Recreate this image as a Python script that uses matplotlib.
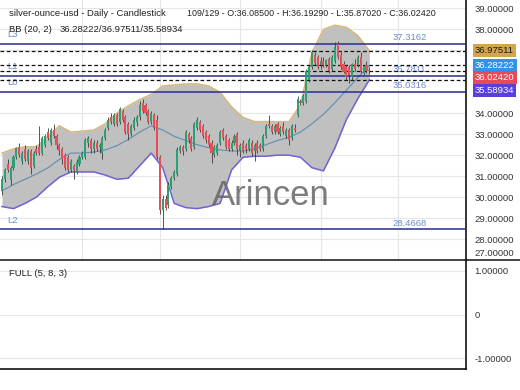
import numpy as np
import matplotlib
matplotlib.use("Agg")
import matplotlib.pyplot as plt
from matplotlib.lines import Line2D

plt.rcParams['font.family'] = ['Liberation Sans', 'DejaVu Sans']

#-------------------candles-------------------------------------------#
opens = [30.30, 30.85, 31.60, 30.80, 31.40, 31.90, 32.40, 31.70, 32.30, 31.70,
         32.20, 31.50, 32.30, 32.40, 32.10, 32.50, 33.10, 32.60, 33.20, 32.90,
         32.50, 32.30, 32.00, 31.90, 31.30, 31.50, 31.20, 31.60, 31.90, 31.90,
         32.60, 32.70, 32.30, 32.60, 32.40, 32.10, 32.80, 33.30, 33.80, 33.50,
         33.90, 33.60, 34.10, 33.80, 33.50, 33.00, 33.30, 33.60, 33.80, 34.50,
         34.40, 34.10, 33.60, 33.90, 33.70, 31.90, 29.40, 29.90, 29.60, 30.50,
         30.90, 31.10, 32.20, 32.40, 32.30, 33.00, 32.80, 32.40, 33.30, 33.60,
         33.40, 33.10, 32.90, 32.60, 32.00, 32.10, 32.60, 33.20, 32.90, 32.70,
         32.30, 32.60, 33.00, 32.20, 32.60, 32.50, 32.30, 32.60, 32.20, 32.60,
         32.50, 32.30, 32.90, 33.50, 33.40, 33.10, 33.50, 33.00, 33.40, 32.90,
         33.20, 32.80, 33.30, 33.90, 34.60, 34.50, 34.60, 35.60, 36.20, 36.80,
         36.70, 36.30, 36.50, 36.30, 36.60, 36.10, 36.50, 37.30, 36.80, 36.35,
         36.20, 36.20, 35.75, 36.35, 36.30, 36.70, 35.90, 36.30, 36.085]
highs = [31.00, 31.40, 31.80, 31.50, 32.00, 32.40, 32.60, 32.20, 32.50, 32.30,
         32.30, 32.20, 32.50, 33.40, 32.90, 33.00, 33.30, 33.30, 33.50, 33.00,
         32.60, 32.40, 32.10, 32.00, 31.80, 31.60, 31.80, 32.00, 32.20, 32.80,
         32.90, 32.80, 32.70, 32.70, 32.60, 32.90, 33.30, 33.80, 34.00, 34.00,
         34.00, 34.30, 34.20, 33.90, 33.60, 33.50, 33.80, 33.90, 34.60, 34.70,
         34.50, 34.20, 34.10, 34.00, 33.90, 32.00, 30.10, 30.10, 30.70, 31.00,
         31.30, 32.40, 32.50, 32.50, 33.20, 33.10, 32.90, 33.60, 33.80, 33.70,
         33.50, 33.20, 33.00, 32.70, 32.50, 32.60, 33.20, 33.30, 33.00, 32.80,
         32.70, 33.00, 33.10, 32.60, 32.70, 32.60, 32.80, 32.70, 32.60, 32.70,
         32.60, 33.00, 33.50, 33.90, 33.50, 33.50, 33.60, 33.40, 33.60, 33.30,
         33.30, 33.50, 33.50, 34.80, 34.70, 34.90, 36.10, 36.30, 37.00, 36.90,
         36.80, 36.70, 36.70, 36.60, 36.70, 36.80, 37.40, 37.45, 36.90, 36.50,
         36.30, 36.30, 36.40, 36.60, 36.80, 36.90, 36.30, 36.50, 36.1929]
lows = [30.10, 30.70, 31.20, 30.60, 31.30, 31.80, 31.90, 31.60, 31.70, 31.60,
        31.10, 31.40, 32.00, 32.00, 32.00, 32.40, 32.70, 32.50, 32.80, 32.30,
        32.00, 31.60, 31.30, 31.20, 31.20, 30.85, 31.10, 31.50, 31.80, 31.80,
        32.40, 32.10, 32.10, 32.20, 32.10, 31.80, 32.70, 33.20, 33.50, 33.40,
        33.40, 33.50, 33.60, 33.00, 32.70, 32.90, 33.20, 33.40, 33.70, 34.00,
        33.90, 33.50, 33.50, 33.20, 31.80, 29.20, 28.47, 29.40, 29.50, 30.40,
        30.80, 31.00, 32.10, 32.00, 32.20, 32.60, 32.20, 32.30, 33.20, 33.10,
        32.80, 32.60, 32.40, 31.65, 31.90, 32.00, 32.50, 32.70, 32.30, 32.20,
        32.20, 32.50, 32.00, 31.90, 32.10, 32.10, 32.20, 31.95, 31.70, 32.10,
        32.20, 32.20, 32.80, 33.30, 33.00, 33.00, 33.00, 32.90, 33.00, 32.80,
        32.50, 32.70, 33.10, 33.80, 34.40, 34.40, 34.50, 35.50, 36.10, 36.30,
        36.10, 36.10, 36.20, 36.20, 35.90, 36.00, 36.40, 36.60, 36.10, 35.90,
        35.60, 35.45, 35.60, 36.00, 36.20, 35.90, 35.80, 35.90, 35.8702]
closes = [30.85, 31.30, 31.30, 31.40, 31.90, 32.35, 32.00, 32.10, 31.80, 32.20,
          31.40, 32.10, 32.10, 32.10, 32.80, 32.90, 32.80, 33.20, 32.90, 32.50,
          32.20, 31.80, 31.40, 31.30, 31.70, 31.30, 31.65, 31.90, 32.10, 32.70,
          32.80, 32.30, 32.60, 32.30, 32.50, 32.80, 33.20, 33.70, 33.60, 33.90,
          33.50, 34.20, 33.70, 33.10, 33.00, 33.40, 33.70, 33.80, 34.40, 34.10,
          34.00, 33.60, 34.00, 33.30, 31.90, 29.40, 29.90, 29.50, 30.60, 30.90,
          31.20, 32.30, 32.40, 32.20, 33.10, 32.70, 32.30, 33.50, 33.70, 33.20,
          32.90, 32.70, 32.50, 32.10, 32.40, 32.50, 33.10, 32.80, 32.40, 32.30,
          32.60, 32.90, 32.30, 32.50, 32.20, 32.30, 32.70, 32.10, 32.50, 32.20,
          32.30, 32.90, 33.40, 33.40, 33.10, 33.40, 33.10, 33.30, 33.10, 33.20,
          32.70, 33.40, 33.20, 34.70, 34.50, 34.80, 36.00, 36.20, 36.90, 36.40,
          36.20, 36.50, 36.30, 36.55, 36.00, 36.70, 37.15, 36.70, 36.20, 35.97,
          35.75, 35.80, 36.35, 36.10, 36.70, 36.00, 36.25, 36.00, 36.0242]

#-------------------Bollinger bands, sampled every 4 bars----------------------#
bb_step = 4
bb_upper = [32.1, 32.3, 32.4, 32.4, 32.9, 33.4, 33.1, 33.15, 33.2, 33.5, 34.0,
            34.35, 34.65, 34.9, 35.3, 35.35, 35.4, 35.4, 35.3, 35.0, 34.3, 33.8,
            33.6, 33.6, 33.6, 33.6, 34.4, 36.9, 38.0, 38.2, 38.1, 37.7, 36.98]
bb_mid = [30.3, 30.6, 30.85, 31.1, 31.4, 31.8, 32.1, 32.1, 32.15, 32.25, 32.45,
          32.75, 33.1, 33.4, 33.2, 32.9, 32.7, 32.5, 32.35, 32.25, 32.2, 32.2,
          32.3, 32.5, 32.7, 32.85, 33.1, 33.5, 33.95, 34.5, 35.1, 35.7, 36.28]
bb_lower = [29.55, 29.45, 29.7, 30.0, 30.5, 30.95, 31.2, 31.2, 31.2, 31.05, 30.85,
            30.9, 31.5, 32.1, 31.4, 29.7, 29.5, 29.45, 29.55, 29.7, 31.3, 31.9,
            31.95, 31.95, 32.0, 32.0, 31.9, 31.4, 31.25, 32.35, 33.7, 34.7, 35.59]

# levels
solid_names = ["L3", "L1", "L0", "L2"]
solid_levels = [37.3162, 35.7811, 35.0316, 28.4668]
dashed_levels = [36.97511, 36.28222, 36.02420, 35.58934]
tag_values = [36.97511, 36.28222, 36.02420, 35.58934]
tag_colors = ['#d2a54e', '#2e93ec', '#e64b57', '#5b3fdc']
tag_text = ['#1a1a1a', 'white', 'white', 'white']

W, H = 520, 390
fs = 6.8
fig = plt.figure(figsize=(W / 100, H / 100), dpi=100)
ax = fig.add_axes([0, 1 - 260 / H, 466 / W, 260 / H])
ax2 = fig.add_axes([0, 21 / H, 466 / W, 109 / H])

n = len(closes)
x = np.arange(n)
px_bar = 2.87
ax.set_xlim(-2 / px_bar, (466 - 2) / px_bar)
ax.set_ylim(27.19, 39.40)

# grid
ax.set_yticks(range(27, 40))
ax.set_xticks([28, 55, 83, 111, 138])
ax.grid(True, color='#e6e6e6', lw=0.8)
ax.set_axisbelow(True)
ax.yaxis.tick_right()
hide = {27, 35, 36, 37}
ax.set_yticklabels(['' if v in hide else '%.5f' % v for v in range(27, 40)])
ax.set_xticklabels([])
ax.tick_params(axis='both', length=0)
ax.tick_params(axis='y', pad=6, labelsize=fs, labelcolor='#333333')
for s in ['top', 'left', 'bottom']:
    ax.spines[s].set_visible(False)
ax.spines['right'].set_linewidth(1.1)

# bands
bx = np.arange(0, n, bb_step)
ax.fill_between(bx, bb_lower, bb_upper, color='#bdbdbd', alpha=0.95, lw=0, zorder=1)
ax.plot(bx, bb_upper, color='#d8b878', lw=1.1, zorder=2)
ax.plot(bx, bb_lower, color='#7262d4', lw=1.1, zorder=2)
ax.plot(bx, bb_mid, color='#5f8db5', lw=0.8, zorder=2)

# watermark
ax.text(271 / 466, 1 - 205 / 260, "Arincen", transform=ax.transAxes, ha='center',
        va='baseline', fontsize=25, color='#656565', alpha=0.85, zorder=2.5)

# candles
o = np.array(opens); c = np.array(closes)
up = c >= o
cols = np.where(up, '#2f9e72', '#e4505a')
ax.vlines(x, lows, highs, color='#3a3a3a', lw=0.6, zorder=4)
ax.bar(x, np.maximum(np.abs(c - o), 0.03), bottom=np.minimum(o, c), width=0.72,
       color=cols, zorder=5)

# level lines
for name, lv in zip(solid_names, solid_levels):
    ax.axhline(lv, color='#272d8c', lw=1.1, zorder=3)
    ax.annotate(name, xy=(0, lv), xycoords=('axes fraction', 'data'),
                xytext=(5, 6.5), textcoords='offset points', va='center',
                fontsize=fs, color='#6b8ad6')
    ax.annotate('%.4f' % lv, xy=(409.5 / 466, lv), xycoords=('axes fraction', 'data'),
                xytext=(0, 4.3), textcoords='offset points', ha='center', va='center',
                fontsize=fs, color='#6b8ad6')
for lv in dashed_levels:
    ax.axhline(lv, color='#111111', lw=0.9, ls=(0, (3, 2)), zorder=3)

# right side price tags, stacked so they don't overlap
fig.canvas.draw()
prev = -100
for v, fc, tc in zip(tag_values, tag_colors, tag_text):
    ypx = H - ax.transData.transform((0, v))[1]
    ypx = max(ypx, prev + 12.5)
    prev = ypx
    fig.text(475 / W, 1 - ypx / H, '%.5f' % v, fontsize=fs, color=tc, va='center',
             ha='left', bbox=dict(boxstyle='square,pad=0.2', fc=fc, ec='none'))
fig.text(474 / W, 1 - 254 / H, '27.00000', fontsize=fs, color='#333333', va='center')

# header text
fig.text(9 / W, 1 - 13 / H, "silver-ounce-usd - Daily - Candlestick", fontsize=fs,
         color='#222222', va='center')
fig.text(187 / W, 1 - 13 / H, "109/129 - O:36.08500 - H:36.19290 - L:35.87020 - C:36.02420",
         fontsize=6.4, color='#222222', va='center')
fig.text(9 / W, 1 - 29.5 / H, "BB (20, 2)", fontsize=fs, color='#222222', va='center')
fig.text(60 / W, 1 - 29.5 / H, "36.28222/36.97511/35.58934", fontsize=fs,
         color='#222222', va='center')

# separator
fig.add_artist(Line2D([0, 1], [1 - 260 / H] * 2, color='#111111', lw=1.1))

#-------------------lower panel----------------------#
ax2.set_xlim(ax.get_xlim())
ax2.set_ylim(-1.25, 1.25)
ax2.set_yticks([-1, 0, 1])
ax2.set_yticklabels(['-1.00000', '0', '1.00000'])
ax2.yaxis.tick_right()
ax2.set_xticks([])
ax2.grid(True, axis='y', color='#e6e6e6', lw=0.8)
ax2.tick_params(axis='y', length=0, pad=6, labelsize=fs, labelcolor='#333333')
for s in ['top', 'left']:
    ax2.spines[s].set_visible(False)
ax2.spines['right'].set_linewidth(1.1)
ax2.spines['bottom'].set_linewidth(1.1)
ax2.text(9 / 466, 1 - 13 / 109, "FULL (5, 8, 3)", transform=ax2.transAxes,
         fontsize=fs, color='#222222', va='center')

fig.savefig("out.png", dpi=100)
